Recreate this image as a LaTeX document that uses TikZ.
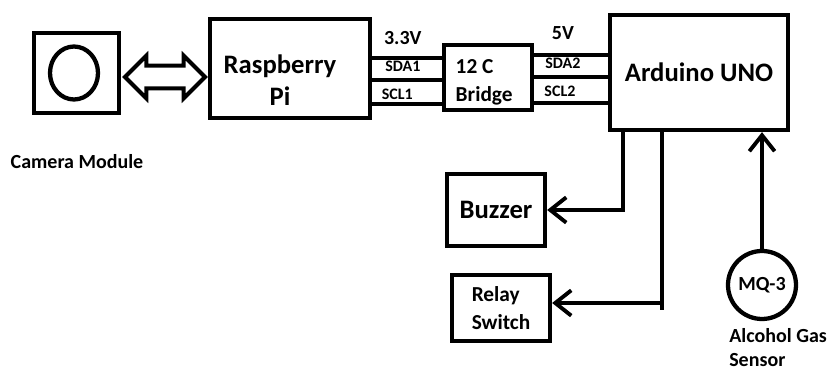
\documentclass[tikz,border=0pt]{standalone}
\usepackage{fontspec}
\setmainfont{Carlito}
\usetikzlibrary{arrows.meta}
\usetikzlibrary{shapes.geometric, shapes.arrows}
\newdimen\pxu
\pxu=0.75pt

\begin{document}
\begin{tikzpicture}[x=0.75pt, y=-0.75pt,
    box/.style={draw, line width=3.2pt, inner sep=0pt},
    wire/.style={line width=2.9pt},
    barbtip/.style={-{Straight Barb[length=12pt, width=19pt]}},
    bigtxt/.style={font=\bfseries\fontsize{20}{24}\selectfont},
    midtxt/.style={font=\bfseries\fontsize{16}{21}\selectfont},
    smtxt/.style={font=\bfseries\fontsize{15}{18.5}\selectfont, inner sep=0pt},
    lbltxt/.style={font=\bfseries\fontsize{12}{14}\selectfont, inner sep=0pt}]
      \useasboundingbox (0,0) rectangle (828,373);

      % camera and pi
      \node[box, minimum width=85\pxu, minimum height=80\pxu] (cam) at (76.5,73) {};
      \node[box, ellipse, minimum width=48\pxu, minimum height=53\pxu] (lens) at (74,73) {};
      \node[smtxt] (camlbl) at (77,162) {Camera Module};
      \node[box, minimum width=160\pxu, minimum height=99\pxu] (pi) at (290,68.5) {};
      \node[bigtxt, align=center] (pitxt) at (280,80) {Raspberry\\Pi};
      \node[double arrow, draw, line width=3pt, inner sep=0pt, inner ysep=7pt, minimum height=80\pxu, double arrow head extend=7.5pt] (link) at (165,77) {};

      % bridge and arduino
      \node[box, minimum width=88\pxu, minimum height=65\pxu] (bridge) at (488,77.5) {};
      \node[midtxt, align=left, anchor=west] (bridgetxt) at (451,82) {12 C\\Bridge};
      \node[box, bigtxt, minimum width=178\pxu, minimum height=115\pxu] (uno) at (699,72.5) {Arduino UNO};

      \draw[wire] (pi.east |- 0,58) -- (bridge.west |- 0,58) node[smtxt, pos=0.44, above=8.5pt] (v33) {3.3V};
      \draw[wire] (pi.east |- 0,80) -- (bridge.west |- 0,80) node[lbltxt, pos=0.44, above=4.5pt] (sda1) {SDA1};
      \draw[wire] (pi.east |- 0,104) -- (bridge.west |- 0,104) node[lbltxt, pos=0.36, above=1.5pt] (scl1) {SCL1};
      \draw[wire] (bridge.east |- 0,55) -- (uno.west |- 0,55) node[smtxt, pos=0.39, above=10pt] (v5) {5V};
      \draw[wire] (bridge.east |- 0,77) -- (uno.west |- 0,77) node[lbltxt, pos=0.39, above=4.5pt] (sda2) {SDA2};
      \draw[wire] (bridge.east |- 0,103) -- (uno.west |- 0,103) node[lbltxt, pos=0.35, above=3pt] (scl2) {SCL2};

      % outputs and sensor
      \node[box, bigtxt, minimum width=98\pxu, minimum height=72\pxu] (buzzer) at (496,210) {Buzzer};
      \node[box, midtxt, align=left, minimum width=98\pxu, minimum height=66\pxu] (relay) at (501,308) {Relay\\Switch};
      \node[box, circle, smtxt, minimum size=68\pxu] (mq) at (762,285) {MQ-3};
      \node[smtxt, align=left, anchor=north west] (gas) at (729,328) {Alcohol Gas\\Sensor};

      \coordinate (tap) at (662,303);
      \draw[wire, barbtip] (uno.south -| 623,0) |- (buzzer.east);
      \draw[wire] (uno.south -| tap) -- ([yshift=-5pt]tap);
      \draw[wire, barbtip] (tap) -- (relay.east |- tap);
      \draw[wire, barbtip] (mq) -- (mq |- uno.south);
    \end{tikzpicture}
\end{document}
